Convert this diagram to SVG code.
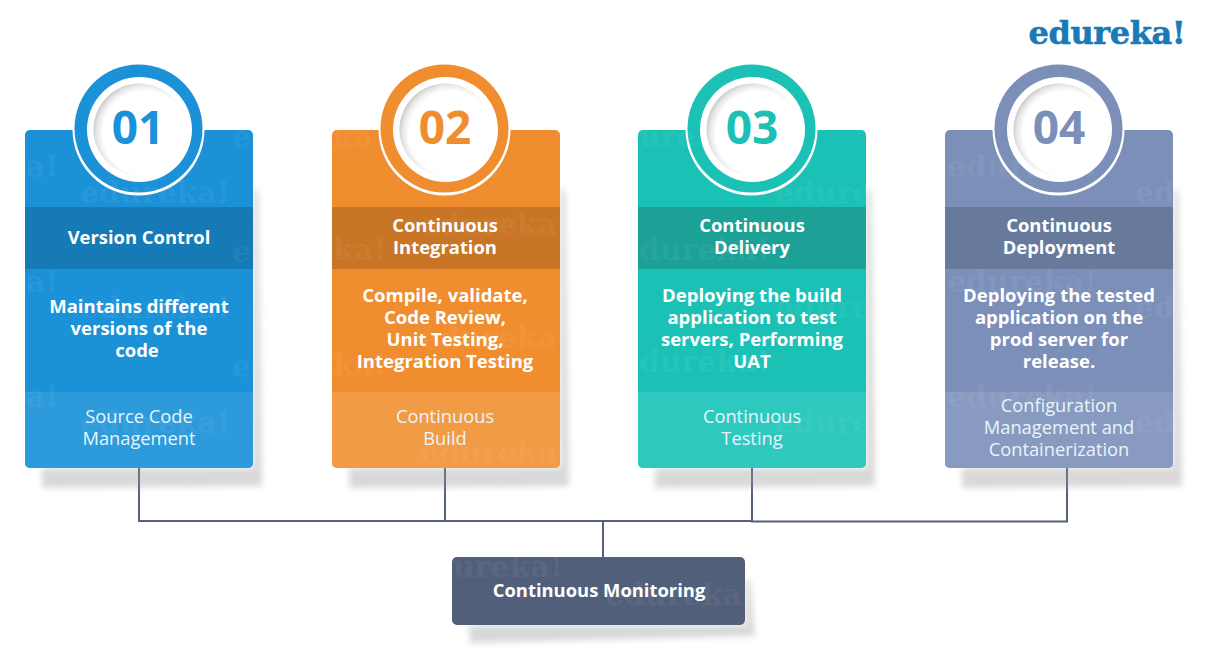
<svg xmlns="http://www.w3.org/2000/svg" width="1210" height="648" viewBox="0 0 1210 648">
<style>
text{font-family:"Open Sans","Noto Sans","Liberation Sans",sans-serif;text-anchor:middle;fill:#fff}
.h{font-weight:700;font-size:18.4px}
.b{font-weight:700;font-size:18.5px}
.f{font-weight:400;font-size:18.3px;fill:#eaf4fb}
.n{font-weight:700;font-size:46px}
.w{font-family:"DejaVu Serif",serif;font-weight:700;font-size:30px;fill:#fff;opacity:.05;text-anchor:start}
.shadow{fill:#9a9a9a;opacity:.38;filter:url(#blur)}
.line{fill:none;stroke:#56617c;stroke-width:2}
.ring{fill:#fff;stroke:none}
</style>
<defs>
<filter id="blur" x="-10%" y="-10%" width="120%" height="120%"><feGaussianBlur stdDeviation="3"/></filter>
<radialGradient id="dish" cx="0.56" cy="0.54" r="0.56"><stop offset="0.82" stop-color="#fff"/><stop offset="0.94" stop-color="#e6e6e6"/><stop offset="1" stop-color="#cfcfcf"/></radialGradient>
<clipPath id="cards"><rect x="25" y="130" width="228" height="338" rx="5"/><rect x="332" y="130" width="228" height="338" rx="5"/><rect x="638" y="130" width="228" height="338" rx="5"/><rect x="945" y="130" width="228" height="338" rx="5"/><rect x="452" y="557" width="293" height="68" rx="5"/></clipPath>
</defs>
<rect width="1210" height="648" fill="#fff"/>
<g id="logo"><text x="1107" y="44" style="font-family:'DejaVu Serif',serif;font-weight:700;font-size:32px;fill:#1a7ab5;stroke:#1a7ab5;stroke-width:.6;letter-spacing:-.4px">edureka!</text></g>
<g id="connectors">
<path class="line" d="M139 468V521H445M445 468V521H752M752 468V521.500H1067V468M603 521V557"/>
</g>
<g id="node-01">
<path class="shadow" d="M42 468H253V190H258L262 486L42 488Z"/>
<rect x="25" y="130" width="228" height="338" rx="5" fill="#1b91d8"/>
<rect x="25" y="207" width="228" height="62" fill="#157ab6"/>
<rect x="25" y="392" width="228" height="76" fill="#2c9adb" clip-path="url(#cards)"/>
<circle cx="138.500" cy="129.500" r="66" class="ring"/><circle cx="138.500" cy="128.500" r="64" fill="#1b91d8"/><circle cx="139.500" cy="129.500" r="52.500" class="ring"/><circle cx="139.500" cy="129.500" r="46" fill="url(#dish)"/>
<text class="n" x="138" y="144" style="fill:#1b91d8">01</text>
<text class="h" x="139" y="244">Version Control</text>
<text class="b"><tspan x="139" y="313">Maintains different</tspan><tspan x="139" y="335">versions of the</tspan><tspan x="137" y="357">code</tspan></text>
<text class="f"><tspan x="139" y="423">Source Code</tspan><tspan x="139" y="445">Management</tspan></text>
</g>
<g id="node-02">
<path class="shadow" d="M349 468H560V190H565L569 486L349 488Z"/>
<rect x="332" y="130" width="228" height="338" rx="5" fill="#f08d2e"/>
<rect x="332" y="207" width="228" height="62" fill="#c97526"/>
<rect x="332" y="392" width="228" height="76" fill="#f29b45" clip-path="url(#cards)"/>
<circle cx="444.500" cy="129.500" r="66" class="ring"/><circle cx="444.500" cy="128.500" r="64" fill="#f08d2e"/><circle cx="445.500" cy="129.500" r="52.500" class="ring"/><circle cx="445.500" cy="129.500" r="46" fill="url(#dish)"/>
<text class="n" x="445" y="144" style="fill:#f08d2e">02</text>
<text class="h"><tspan x="445" y="232">Continuous</tspan><tspan x="445" y="254">Integration</tspan></text>
<text class="b"><tspan x="445" y="302">Compile, validate,</tspan><tspan x="445" y="324">Code Review,</tspan><tspan x="445" y="346">Unit Testing,</tspan><tspan x="445" y="368">Integration Testing</tspan></text>
<text class="f"><tspan x="445" y="423">Continuous</tspan><tspan x="445" y="445">Build</tspan></text>
</g>
<g id="node-03">
<path class="shadow" d="M655 468H866V190H871L875 486L655 488Z"/>
<rect x="638" y="130" width="228" height="338" rx="5" fill="#1bc1b5"/>
<rect x="638" y="207" width="228" height="62" fill="#1ca197"/>
<rect x="638" y="392" width="228" height="76" fill="#2ec9be" clip-path="url(#cards)"/>
<circle cx="751.500" cy="129.500" r="66" class="ring"/><circle cx="751.500" cy="128.500" r="64" fill="#1bc1b5"/><circle cx="752.500" cy="129.500" r="52.500" class="ring"/><circle cx="752.500" cy="129.500" r="46" fill="url(#dish)"/>
<text class="n" x="752" y="144" style="fill:#1bc1b5">03</text>
<text class="h"><tspan x="752" y="232">Continuous</tspan><tspan x="752" y="254">Delivery</tspan></text>
<text class="b"><tspan x="752" y="302">Deploying the build</tspan><tspan x="752" y="324">application to test</tspan><tspan x="752" y="346">servers, Performing</tspan><tspan x="752" y="368">UAT</tspan></text>
<text class="f"><tspan x="752" y="423">Continuous</tspan><tspan x="752" y="445">Testing</tspan></text>
</g>
<g id="node-04">
<path class="shadow" d="M962 468H1173V190H1178L1182 486L962 488Z"/>
<rect x="945" y="130" width="228" height="338" rx="5" fill="#7b8fb9"/>
<rect x="945" y="207" width="228" height="62" fill="#687a9c"/>
<rect x="945" y="392" width="228" height="76" fill="#889ac0" clip-path="url(#cards)"/>
<circle cx="1058.500" cy="129.500" r="66" class="ring"/><circle cx="1058.500" cy="128.500" r="64" fill="#7b8fb9"/><circle cx="1059.500" cy="129.500" r="52.500" class="ring"/><circle cx="1059.500" cy="129.500" r="46" fill="url(#dish)"/>
<text class="n" x="1059" y="144" style="fill:#7b8fb9">04</text>
<text class="h"><tspan x="1059" y="232">Continuous</tspan><tspan x="1059" y="254">Deployment</tspan></text>
<text class="b"><tspan x="1059" y="302">Deploying the tested</tspan><tspan x="1059" y="324">application on the</tspan><tspan x="1059" y="346">prod server for</tspan><tspan x="1059" y="368">release.</tspan></text>
<text class="f"><tspan x="1059" y="412">Configuration</tspan><tspan x="1059" y="434">Management and</tspan><tspan x="1059" y="456">Containerization</tspan></text>
</g>
<g id="node-monitoring">
<path class="shadow" d="M469 625H745V580H750L755 636L470 643Z"/>
<rect x="452" y="557" width="293" height="68" rx="5" fill="#525f7a"/>
<text class="h" x="599" y="597">Continuous Monitoring</text>
</g>
<g id="watermarks" clip-path="url(#cards)">
<text class="w" x="80" y="203">edureka!</text><text class="w" x="80" y="318">edureka!</text><text class="w" x="80" y="433">edureka!</text>
<text class="w" x="26" y="177">a!</text><text class="w" x="26" y="292">a!</text><text class="w" x="26" y="407">a!</text>
<text class="w" x="232" y="147">e</text><text class="w" x="232" y="262">e</text><text class="w" x="232" y="377">e</text>
<text class="w" x="333" y="147">ka</text><text class="w" x="333" y="260">ka!</text><text class="w" x="333" y="375">ka!</text>
<text class="w" x="420" y="235">edureka</text><text class="w" x="420" y="348">edureka</text><text class="w" x="420" y="463">edureka</text>
<text class="w" x="639" y="147">ure</text><text class="w" x="639" y="260">dureka!</text><text class="w" x="639" y="372">dureka!</text>
<text class="w" x="775" y="203">edure</text><text class="w" x="775" y="318">edure</text><text class="w" x="775" y="433">edure</text>
<text class="w" x="947" y="177">edureka!</text><text class="w" x="947" y="292">edureka!</text><text class="w" x="947" y="407">edureka!</text>
<text class="w" x="1135" y="203">ed</text><text class="w" x="1135" y="318">ed</text><text class="w" x="1135" y="433">ed</text>
<text class="w" x="453" y="577">ureka!</text><text class="w" x="605" y="605">edureka</text>
</g>
</svg>
